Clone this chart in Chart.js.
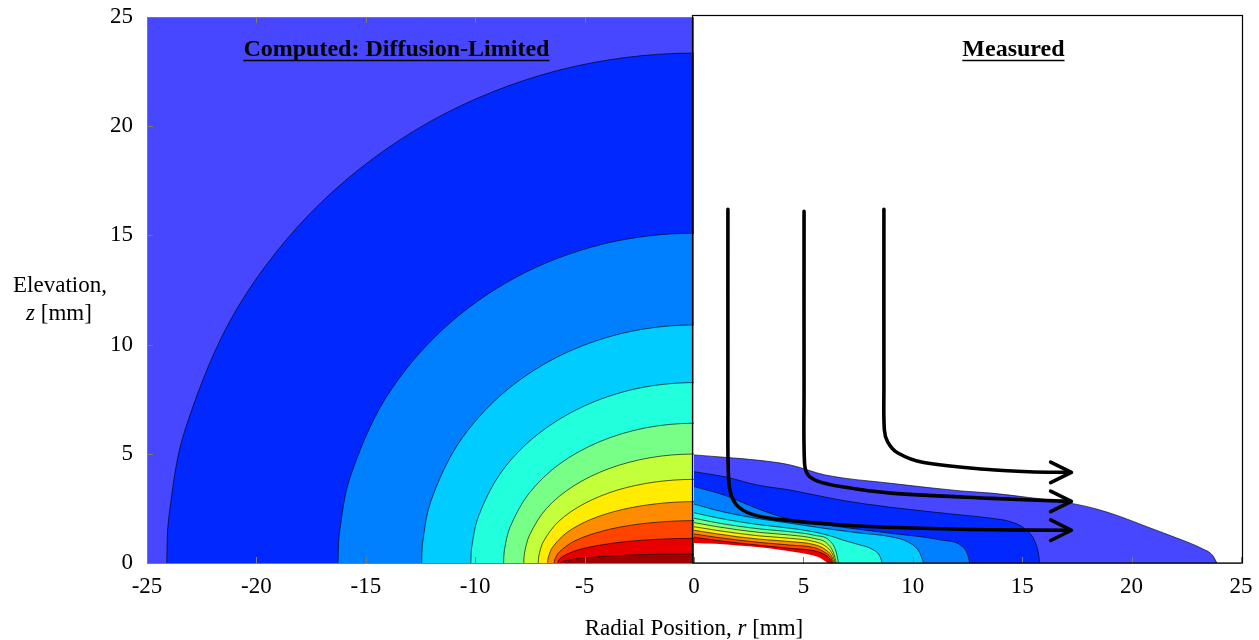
<!DOCTYPE html>
<html>
<head>
<meta charset="utf-8">
<script src="https://cdn.jsdelivr.net/npm/chart.js@4.4.1/dist/chart.umd.min.js"></script>
<style>
  body { margin: 0; background: #fff; }
  #wrap { width: 1259px; height: 640px; }
</style>
</head>
<body>
<div id="wrap"><canvas id="myChart" width="1259" height="640"></canvas></div>
<script>
// tick labels
const rTicks = [-25, -20, -15, -10, -5, 0, 5, 10, 15, 20, 25];
const zTicks = [0, 5, 10, 15, 20, 25];

// band colours, outermost (lowest) level first
const bandColors = ["#4747ff", "#0028ff", "#0080ff", "#00ccff", "#22ffdd", "#77ff88", "#c4ff3c", "#ffec00", "#ff8c00", "#ff4400", "#e80000", "#a00000"];

// computed contours, left half, [r, z] in mm (outer -> inner)
// last point lies just past r = 0 (symmetric field) so each curve crosses the axis flat
const computed1 = [[-24.1, 0], [-24.01, 2.04], [-23.28, 6.04], [-20.87, 11.68], [-17.04, 16.51], [-12.05, 20.22], [-6.24, 22.55], [0, 23.35], [6.24, 22.55]];
const computed2 = [[-16.27, 0], [-16.21, 1.32], [-15.72, 3.91], [-14.09, 7.55], [-11.5, 10.68], [-8.14, 13.08], [-4.21, 14.59], [0, 15.1], [4.21, 14.59]];
const computed3 = [[-12.45, 0], [-12.4, 0.95], [-12.03, 2.82], [-10.78, 5.45], [-8.8, 7.71], [-6.23, 9.44], [-3.22, 10.53], [0, 10.9], [3.22, 10.53]];
const computed4 = [[-10.2, 0], [-10.16, 0.72], [-9.85, 2.14], [-8.83, 4.13], [-7.21, 5.84], [-5.1, 7.15], [-2.64, 7.98], [0, 8.26], [2.64, 7.98]];
const computed5 = [[-8.7, 0], [-8.67, 0.56], [-8.4, 1.66], [-7.53, 3.2], [-6.15, 4.53], [-4.35, 5.54], [-2.25, 6.18], [0, 6.4], [2.25, 6.18]];
const computed6 = [[-7.78, 0], [-7.75, 0.44], [-7.51, 1.29], [-6.74, 2.5], [-5.5, 3.53], [-3.89, 4.32], [-2.01, 4.82], [0, 4.99], [2.01, 4.82]];
const computed7 = [[-7.12, 0], [-7.09, 0.33], [-6.88, 0.99], [-6.17, 1.92], [-5.03, 2.71], [-3.56, 3.32], [-1.84, 3.7], [0, 3.83], [1.84, 3.7]];
const computed8 = [[-6.69, 0], [-6.66, 0.25], [-6.46, 0.73], [-5.79, 1.41], [-4.73, 1.99], [-3.35, 2.43], [-1.73, 2.71], [0, 2.81], [1.73, 2.71]];
const computed9 = [[-6.38, 0], [-6.36, 0.17], [-6.16, 0.5], [-5.53, 0.97], [-4.51, 1.37], [-3.19, 1.68], [-1.65, 1.87], [0, 1.94], [1.65, 1.87]];
const computed10 = [[-6.23, 0], [-6.21, 0.1], [-6.02, 0.29], [-5.4, 0.57], [-4.41, 0.8], [-3.12, 0.98], [-1.61, 1.09], [0, 1.13], [1.61, 1.09]];
const computed11 = [[-6.08, 0], [-6.06, 0.04], [-5.87, 0.11], [-5.27, 0.21], [-4.3, 0.29], [-3.04, 0.36], [-1.57, 0.4], [0, 0.41], [1.57, 0.4]];

// measured contours, right half (outer -> inner)
const measured0 = [[0, 4.95], [1.4, 4.84], [3, 4.7], [4.4, 4.49], [6, 4.03], [9, 3.65], [12.2, 3.3], [13.6, 3.2], [15.3, 3.0], [16.8, 2.81], [18.3, 2.5], [19.5, 2.12], [20.7, 1.66], [22.1, 1.13], [23.2, 0.67], [23.7, 0.35], [23.9, 0]];
const measured1 = [[0, 4.18], [1.4, 3.95], [2.9, 3.57], [4.4, 3.34], [6.7, 2.88], [9, 2.55], [12.2, 2.2], [13.6, 2.05], [14.6, 1.85], [15.2, 1.5], [15.6, 0.95], [15.75, 0.4], [15.8, 0]];
const measured2 = [[0, 3.5], [1.4, 3.1], [3, 2.45], [4.4, 2.0], [6.7, 1.65], [9, 1.36], [11.3, 1.05], [12.2, 0.8], [12.5, 0.4], [12.6, 0]];
const measured3 = [[0, 2.7], [1, 2.42], [2, 2.2], [3, 2.02], [4.4, 1.82], [6, 1.58], [7.5, 1.38], [9, 1.2], [9.8, 0.95], [10.3, 0.5], [10.5, 0]];
const measured4 = [[0, 2.3], [1, 2.08], [2, 1.9], [3, 1.75], [4.4, 1.59], [5.5, 1.42], [6.3, 1.22], [6.8, 1.05], [7.5, 0.85], [8.2, 0.6], [8.5, 0.3], [8.6, 0]];
const measured5 = [[0, 2.05], [1, 1.85], [2, 1.69], [3, 1.56], [4.4, 1.43], [5.5, 1.27], [6.2, 1.02], [6.5, 0.5], [6.6, 0]];
const measured6 = [[0, 1.85], [1, 1.67], [2, 1.52], [3, 1.4], [4.4, 1.28], [5.5, 1.12], [6.1, 0.88], [6.4, 0.4], [6.5, 0]];
const measured7 = [[0, 1.66], [1, 1.5], [2, 1.36], [3, 1.24], [4.4, 1.13], [5.5, 0.98], [6.05, 0.74], [6.35, 0.35], [6.45, 0]];
const measured8 = [[0, 1.5], [1, 1.34], [2, 1.2], [3, 1.09], [4.4, 0.98], [5.5, 0.84], [6.0, 0.62], [6.3, 0.3], [6.4, 0]];
const measured9 = [[0, 1.33], [1, 1.18], [2, 1.05], [3, 0.94], [4.4, 0.82], [5.5, 0.7], [5.95, 0.5], [6.25, 0.25], [6.35, 0]];
const measured10 = [[0, 1.18], [1, 1.04], [2, 0.92], [3, 0.81], [4.4, 0.67], [5.5, 0.56], [5.9, 0.42], [6.2, 0.2], [6.3, 0]];
const noData = [[0, 0.92], [1, 0.88], [2, 0.8], [3, 0.72], [4, 0.6], [4.9, 0.46], [5.4, 0.36], [5.8, 0.22], [6.0, 0.08], [6.1, 0]];

// flow streamlines and arrow heads
const stream1 = [[1.55, 16.2], [1.55, 8], [1.56, 4.5], [1.65, 3.3], [1.95, 2.65], [2.6, 2.25], [3.7, 2.02], [6.7, 1.74], [10, 1.6], [13.6, 1.52], [17.2, 1.5]];
const stream2 = [[5.03, 16.1], [5.03, 8], [5.05, 4.6], [5.2, 4.05], [5.65, 3.75], [6.7, 3.5], [9, 3.2], [13.6, 2.96], [17.2, 2.82]];
const stream3 = [[8.68, 16.2], [8.68, 8], [8.7, 6.1], [8.85, 5.55], [9.3, 5.05], [10.5, 4.6], [13.6, 4.27], [15.3, 4.18], [17.2, 4.15]];
const head1 = [[16.3, 1.97], [17.25, 1.5], [16.3, 1.03]];
const head2 = [[16.3, 3.29], [17.25, 2.82], [16.3, 2.35]];
const head3 = [[16.3, 4.62], [17.25, 4.15], [16.3, 3.68]];

const computedLevels = [computed1, computed2, computed3, computed4, computed5, computed6, computed7, computed8, computed9, computed10, computed11];
const measuredLevels = [measured0, measured1, measured2, measured3, measured4, measured5, measured6, measured7, measured8, measured9, measured10];

const serif = '"Liberation Serif", "Times New Roman", serif';

function toXY(points) {
  return points.map((p) => ({ x: p[0], y: p[1] }));
}

// filled band down to z = 0, with a thin contour line on top
function band(points, color, outline, curve) {
  const ds = {
    data: toXY(points),
    showLine: true,
    pointRadius: 0,
    fill: "origin",
    backgroundColor: color,
    borderColor: outline ? "rgba(0,0,0,0.8)" : color,
    borderWidth: outline ? 0.8 : 0,
  };
  if (curve === "arc") {
    ds.tension = 0.33;
  } else {
    ds.cubicInterpolationMode = "monotone";
  }
  return ds;
}

function stroke(points, smooth) {
  return {
    data: toXY(points),
    showLine: true,
    pointRadius: 0,
    fill: false,
    borderColor: "#000",
    borderWidth: 3.6,
    tension: smooth ? 0.35 : 0,
    borderCapStyle: "round",
    borderJoinStyle: "round",
  };
}

// datasets in drawing order, bottom first
const datasets = [];
datasets.push(band([[-25, 25], [0, 25]], bandColors[0], false, "arc"));
computedLevels.forEach((c, i) => datasets.push(band(c, bandColors[i + 1], true, "arc")));
datasets.push(band([[0, 25], [25, 25]], "#ffffff", false, "arc")); // blank measured panel
measuredLevels.forEach((c, i) => datasets.push(band(c, bandColors[i], true, "monotone")));
datasets.push(band(noData, "#ffffff", false, "monotone"));
[stream1, stream2, stream3].forEach((s) => datasets.push(stroke(s, true)));
[head1, head2, head3].forEach((h) => datasets.push(stroke(h, false)));
datasets.forEach((d, i) => (d.order = datasets.length - i));

function richText(ctx, parts, cx, y) {
  let w = 0;
  parts.forEach((p) => {
    ctx.font = p[1];
    w += ctx.measureText(p[0]).width;
  });
  let x = cx - w / 2;
  parts.forEach((p) => {
    ctx.font = p[1];
    ctx.fillText(p[0], x, y);
    x += ctx.measureText(p[0]).width;
  });
  return [cx - w / 2, cx + w / 2];
}

const framePlugin = {
  id: "frame",
  afterDraw(chart) {
    const { ctx, chartArea: a, scales } = chart;
    const sx = scales.x;
    const sy = scales.y;
    const x0 = sx.getPixelForValue(0);
    ctx.save();

    // left panel frame
    ctx.strokeStyle = "#7a7a7a";
    ctx.lineWidth = 1;
    ctx.beginPath();
    ctx.moveTo(x0, a.top + 0.5);
    ctx.lineTo(a.left + 0.5, a.top + 0.5);
    ctx.lineTo(a.left + 0.5, a.bottom + 0.5);
    ctx.lineTo(a.right, a.bottom + 0.5);
    ctx.stroke();

    // inward ticks
    ctx.beginPath();
    rTicks.forEach((v) => {
      const px = Math.round(sx.getPixelForValue(v)) + 0.5;
      ctx.moveTo(px, a.bottom);
      ctx.lineTo(px, a.bottom - 6);
      if (v < 0 && v > -25) {
        ctx.moveTo(px, a.top);
        ctx.lineTo(px, a.top + 6);
      }
    });
    zTicks.forEach((v) => {
      const py = Math.round(sy.getPixelForValue(v)) + 0.5;
      ctx.moveTo(a.left, py);
      ctx.lineTo(a.left + 6, py);
    });
    ctx.stroke();

    // measured panel frame
    ctx.strokeStyle = "#000";
    ctx.lineWidth = 1.2;
    ctx.strokeRect(x0 - 1.5, a.top - 1.5, a.right - x0 + 3, a.bottom - a.top + 1.5);

    // axis titles
    ctx.fillStyle = "#000";
    ctx.textAlign = "left";
    ctx.textBaseline = "alphabetic";
    richText(ctx, [["Elevation,", `23px ${serif}`]], 60, 292);
    richText(ctx, [["z", `italic 23px ${serif}`], [" [mm]", `23px ${serif}`]], 59, 320);
    richText(ctx, [["Radial Position, ", `23px ${serif}`], ["r", `italic 23px ${serif}`], [" [mm]", `23px ${serif}`]], x0, 635);

    // panel titles, underlined
    const titles = [["Computed: Diffusion-Limited", sx.getPixelForValue(-13.6)], ["Measured", sx.getPixelForValue(14.6)]];
    ctx.lineWidth = 1.5;
    titles.forEach((t) => {
      const span = richText(ctx, [[t[0], `bold 24px ${serif}`]], t[1], a.top + 39);
      ctx.beginPath();
      ctx.moveTo(span[0], a.top + 43.5);
      ctx.lineTo(span[1], a.top + 43.5);
      ctx.stroke();
    });
    ctx.restore();
  },
};

const ctx = document.getElementById("myChart").getContext("2d");
new Chart(ctx, {
  type: "scatter",
  data: { datasets: datasets },
  options: {
    responsive: false,
    animation: false,
    layout: { padding: { top: 17, right: 18, left: 0, bottom: 0 } },
    plugins: { legend: { display: false }, tooltip: { enabled: false } },
    scales: {
      x: {
        type: "linear",
        min: -25,
        max: 25,
        afterBuildTicks: (s) => {
          s.ticks = rTicks.map((v) => ({ value: v }));
        },
        afterFit: (s) => {
          s.height = 77;
          s.paddingLeft = 0;
          s.paddingRight = 0;
        },
        grid: { display: false, drawTicks: false },
        border: { display: false },
        ticks: { color: "#000", font: { family: serif, size: 23 }, padding: 10, maxRotation: 0, autoSkip: false },
      },
      y: {
        type: "linear",
        min: 0,
        max: 25,
        afterBuildTicks: (s) => {
          s.ticks = zTicks.map((v) => ({ value: v }));
        },
        afterFit: (s) => {
          s.width = 147;
          s.paddingTop = 0;
          s.paddingBottom = 0;
        },
        grid: { display: false, drawTicks: false },
        border: { display: false },
        ticks: { color: "#000", font: { family: serif, size: 23 }, padding: 14 },
      },
    },
  },
  plugins: [framePlugin],
});
</script>
</body>
</html>
